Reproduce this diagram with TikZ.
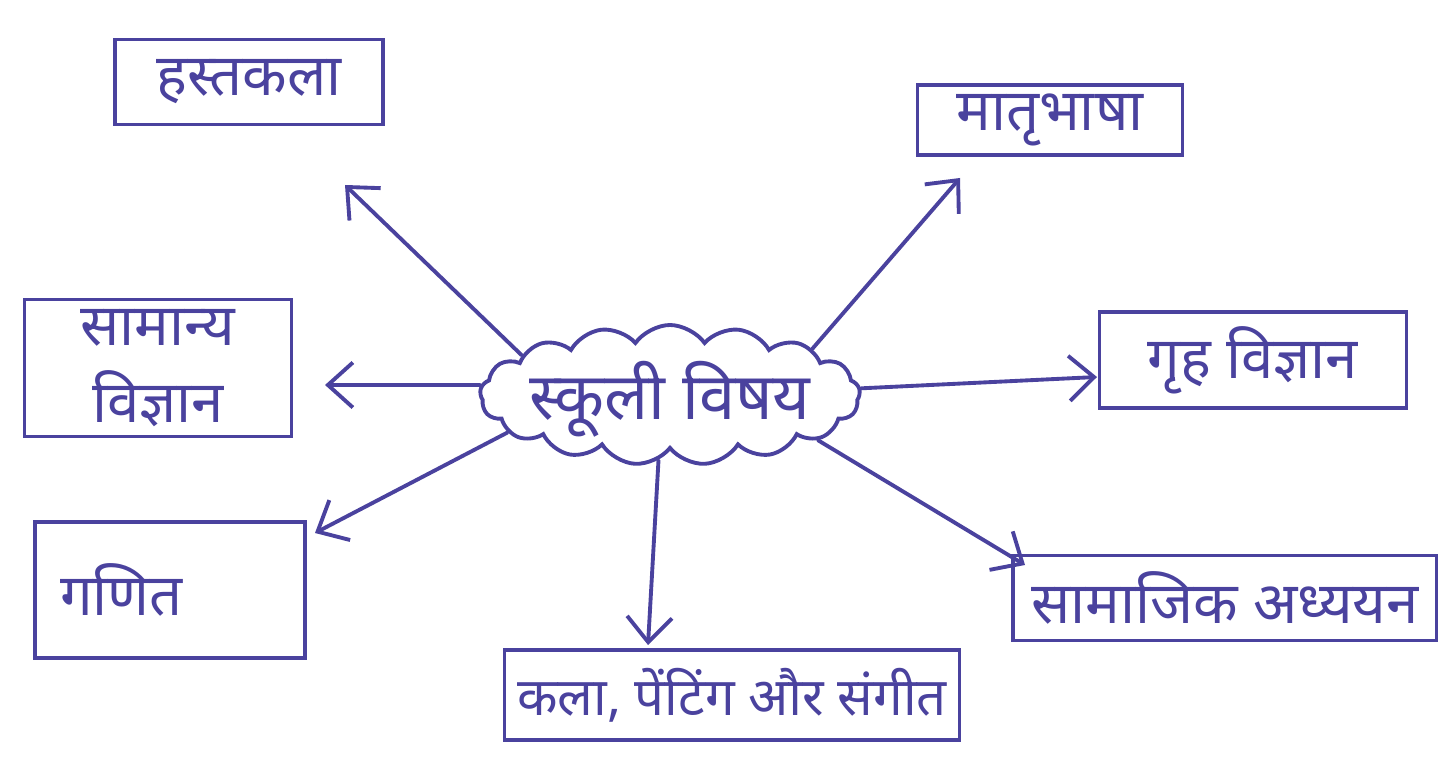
\documentclass[tikz,border=0pt]{standalone}
\usepackage{fontspec}
\newfontfamily\hindi[Script=Devanagari]{Noto Sans}
\usetikzlibrary{shapes.symbols,arrows.meta}
\definecolor{ink}{RGB}{74,66,158}
\begin{document}
\begin{tikzpicture}[
	ink/.style={draw=ink, line width=1.1pt},
	box/.style={ink, rectangle, inner sep=2pt, text=ink, font=\hindi\fontsize{16.5}{22}\selectfont, align=center},
	cloudbox/.style={ink, cloud, cloud puffs=17, cloud puff arc=110, cloud ignores aspect, text=ink, font=\hindi\fontsize{18.5}{24}\selectfont, minimum width=3.8cm, minimum height=1.4cm, inner sep=0pt},
	link/.style={ink, -{Straight Barb[length=2.5mm,width=4.5mm]}, line cap=round}
	]
	\useasboundingbox (0,0) rectangle (14.38,7.65);
	
	% centre
	\node[cloudbox] (school) at (6.70,3.70) {\smash{\makebox[0pt]{\raisebox{-2.5mm}{स्कूली विषय}}}};
	
	% boxes
	\node[box, minimum width=2.68cm, minimum height=0.85cm] (hast) at (2.49,6.83) {हस्तकला};
	\node[box, minimum width=2.65cm, minimum height=0.70cm] (matri) at (10.50,6.45) {मातृभाषा};
	\node[box, minimum width=2.67cm, minimum height=1.37cm] (saman) at (1.58,3.97) {सामान्य\\विज्ञान};
	\node[box, minimum width=3.07cm, minimum height=0.96cm] (griha) at (12.53,4.05) {गृह विज्ञान};
	\node[box, minimum width=2.70cm, minimum height=1.36cm, text width=2.2cm, align=left, inner xsep=0.25cm] (ganit) at (1.70,1.75) {गणित\\[2mm]};
	\node[box, minimum width=4.24cm, minimum height=0.85cm] (samaj) at (12.25,1.67) {सामाजिक अध्ययन};
	\node[box, minimum width=4.55cm, minimum height=0.90cm, font=\hindi\fontsize{15}{20}\selectfont] (kala) at (7.32,0.70) {कला, पेंटिंग और संगीत};
	
	% arrow tips
	\coordinate (tHast) at (3.45,5.80);
	\coordinate (tMatri) at (9.60,5.87);
	\coordinate (tSaman) at (3.25,3.80);
	\coordinate (tGriha) at (10.97,3.88);
	\coordinate (tGanit) at (3.15,2.32);
	\coordinate (tKala) at (6.48,1.20);
	\coordinate (tSamaj) at (10.25,2.00);
	
	\draw[link] (school.165) -- (tHast);
	\draw[link] (school.18) -- (tMatri);
	\draw[link] (school.177) -- (tSaman);
	\draw[link] (school.2) -- (tGriha);
	\draw[link] (school.193) -- (tGanit);
	\draw[link] (school.260) -- (tKala);
	\draw[link] (school.343) -- (tSamaj);
\end{tikzpicture}
\end{document}
